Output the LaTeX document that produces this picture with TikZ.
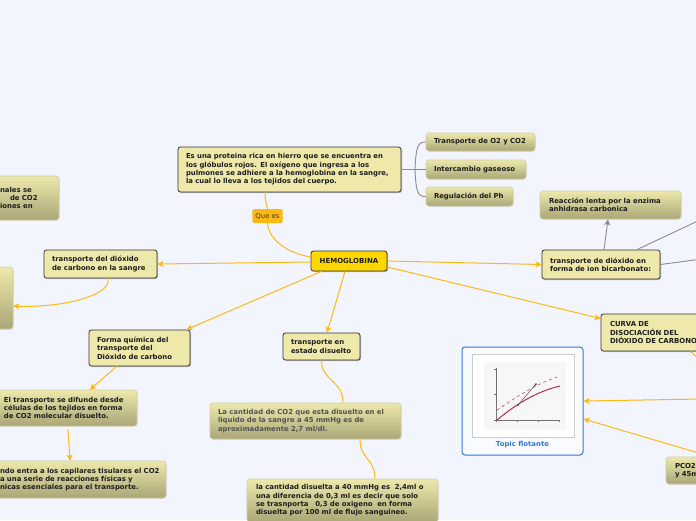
\documentclass[tikz,border=0pt]{standalone}
\usepackage{fontspec}
\setmainfont{DejaVu Sans}
\usetikzlibrary{arrows.meta,shadows}
\definecolor{bg}{HTML}{F2F5FD}
\definecolor{pale}{HTML}{EEE8AA}
\definecolor{gtop}{HTML}{EDE9AC}
\definecolor{gbot}{HTML}{AAA677}
\definecolor{gedge}{HTML}{D2CEA2}
\definecolor{orng}{HTML}{FDB913}
\definecolor{hemoc}{HTML}{FFD700}
\definecolor{bluet}{HTML}{2F7BD6}
\definecolor{txt}{HTML}{1E1E1E}
\definecolor{crv}{HTML}{C0163B}
\tikzset{
  fnt/.style={font=\fontsize{6.9}{8.4}\selectfont\bfseries, text=txt},
  palebox/.style={fnt, draw=black!80, fill=pale, rounded corners=2.5pt, line width=0.8pt,
    drop shadow={shadow xshift=1pt, shadow yshift=-1pt, fill=black, opacity=0.25},
    align=left, inner xsep=8pt, inner ysep=0pt},
  gradbox/.style={fnt, draw=gedge, top color=gtop, bottom color=gbot, rounded corners=3pt, line width=0.6pt,
    drop shadow={shadow xshift=0.6pt, shadow yshift=-0.6pt, fill=black, opacity=0.12},
    align=left, inner xsep=8pt, inner ysep=0pt},
  arr/.style={draw=orng, line width=1pt, -{Stealth[length=6pt,width=6pt,inset=1.5pt]}},
  oline/.style={draw=orng, line width=1pt},
  gline/.style={draw=black!45, line width=0.9pt},
  garr/.style={draw=black!45, line width=0.9pt, -{Stealth[length=6pt,width=6pt,inset=1.5pt]}},
}
\begin{document}
\begin{tikzpicture}[x=1pt,y=-1pt]
\useasboundingbox (0,0) rectangle (696,520);
\fill[bg] (0,0) rectangle (696,520);
\clip (0,0) rectangle (696,520);

% ---------- nodes ----------
\node[palebox, text width=207pt, minimum height=45pt] (def) at (289.5,169.5)
 {Es una proteina rica en hierro que se encuentra en\\los glóbulos rojos. El oxígeno que ingresa a los\\pulmones se adhiere a la hemoglobina en la sangre,\\la cual lo lleva a los tejidos del cuerpo.};

\node[gradbox, text width=93pt, minimum height=18pt] (tr1) at (480.5,142) {Transporte de O2 y CO2};
\node[gradbox, text width=84pt, minimum height=19pt] (tr2) at (476,169.5) {Intercambio gaseoso};
\node[gradbox, text width=71pt, minimum height=19pt] (tr3) at (469.5,196.5) {Regulación del Ph};

\node[gradbox, text width=50pt, inner xsep=9pt, minimum height=44pt] (lt) at (25,198)
 {\mbox{nales se}\\\mbox{\hspace{10pt}de CO2}\\\mbox{iones en}};
\node[gradbox, text width=57pt, minimum height=62pt] (lm) at (-23.5,298) {};

\node[palebox, text width=97pt, minimum height=28pt] (tdc) at (100.5,264)
 {transporte del dióxido\\de carbono en la sangre};
\node[palebox, text width=85pt, minimum height=36pt] (fq) at (139.5,348)
 {Forma química del\\transporte del\\Dióxido de carbono};
\node[gradbox, text width=126pt, inner xsep=7pt, minimum height=36pt] (elt) at (67,408)
 {\mbox{El transporte se difunde desde}\\\mbox{células de los tejidos en forma}\\\mbox{de CO2 molecular disuelto.}};
\node[gradbox, text width=157pt, inner xsep=9pt, minimum height=37pt] (cua) at (78.5,479.5)
 {\mbox{ndo entra a los capilares tisulares el CO2}\\\mbox{a una serie de reacciones físicas y}\\\mbox{nicas esenciales para el transporte.}};

\node[palebox, text width=61pt, minimum height=27pt] (tds) at (321.5,346.5)
 {transporte en\\estado disuelto};
\node[gradbox, text width=175pt, minimum height=36pt, text=black!68] (lc1) at (305.5,421)
 {La cantidad de CO2 que esta disuelto en el\\liquido de la sangre a 45 mmHg es de\\aproximadamente 2,7 ml/dl.};
\node[gradbox, text width=173pt, inner xsep=9pt, minimum height=43pt] (lc2) at (342.5,500.5)
 {la cantidad disuelta a 40 mmHg es~ 2,4ml o\\una diferencia de 0,3 ml es decir que solo\\se trasnporta~~ 0,3 de oxigeno~ en forma\\disuelta por 100 ml de flujo sanguineo.};

\node[palebox, text width=102pt, minimum height=29pt] (bic) at (601,264.5)
 {transporte de dióxido en\\forma de ion bicarbonato:};
\node[gradbox, text width=123pt, inner xsep=9pt, minimum height=28pt] (rl) at (610.5,205)
 {Reacción lenta por la enzima\\anhidrasa carbonica};
\node[palebox, text width=101pt, inner xsep=9pt, minimum height=37pt] (cur) at (660.5,332.5)
 {CURVA DE\\DISOCIACIÓN DEL\\\mbox{DIÓXIDO DE CARBONO}};
\node[gradbox, text width=46pt, inner xsep=9pt, minimum height=27pt] (pco) at (698,470.5)
 {PCO2\\y 45m};

% floating topic
\node[draw=bluet, fill=white!60!bg, line width=1pt, rounded corners=3pt,
  minimum width=121pt, minimum height=108pt, inner sep=0pt] (ft) at (522.5,401) {};
\node[fill=white, draw=black!20, line width=0.6pt,
  drop shadow={shadow xshift=0.8pt, shadow yshift=-0.8pt, fill=black, opacity=0.15},
  minimum width=102pt, minimum height=83pt, inner sep=0pt] (img) at (523,395.5) {};
\node[font=\fontsize{6.9}{8}\selectfont\bfseries, text=bluet] (ftl) at (522.5,445) {Topic flotante};
% small graph inside the image
\fill[black!3] (484,362) rectangle (566,430);
\draw[black!55, line width=0.4pt] (496,368) -- (496,420) -- (560,420);
\foreach \xx in {496,517,538,559} \draw[black!55, line width=0.3pt] (\xx,420) -- (\xx,422);
\foreach \yy in {369,394,420} \draw[black!55, line width=0.3pt] (494,\yy) -- (496,\yy);
\draw[crv!70, line width=0.7pt, dashed] (497,410) .. controls (515,398) and (535,384) .. (560,376);
\draw[crv, line width=0.9pt] (497,420) .. controls (515,405) and (535,392) .. (560,386);
\draw[black!70, line width=0.5pt, -{Stealth[length=2.5pt]}] (518,405) -- (536,384);
\fill[black!70] (518,405) circle (1pt) (536,384) circle (1pt);

\node[fill=orng, rounded corners=1.5pt, inner xsep=3pt, inner ysep=0pt, minimum height=14pt,
  font=\fontsize{6.9}{8}\selectfont, text=black!70!orng] (qe) at (267.5,216) {Que es};

\node[fill=hemoc, draw=black!80, line width=0.8pt, rounded corners=2.5pt,
  drop shadow={shadow xshift=1pt, shadow yshift=-1pt, fill=black, opacity=0.25},
  minimum width=76pt, minimum height=20pt, inner sep=0pt,
  font=\fontsize{7}{8}\selectfont\bfseries, text=txt] (hemo) at (349,261) {HEMOGLOBINA};

% off-canvas coordinates
\coordinate (o1) at (702,219);
\coordinate (o2) at (702,259);
\coordinate (o3) at (702,362);
\coordinate (o4) at (702,399);
\coordinate (o5) at (702,454);

% ---------- connectors ----------
\draw[oline] ([yshift=4pt]hemo.west) .. controls (282,252) and (268,236) .. (qe.south);
\draw[oline] (qe.north) .. controls (266,204) and (265,198) .. ([xshift=-24.5pt]def.south);
\draw[gline] (def.east) -- (415,169.5);
\draw[gline] (415,169.5) .. controls (416,146) and (418,142) .. (tr1.west);
\draw[gline] (415,169.5) -- (tr2.west);
\draw[gline] (415,169.5) .. controls (416,193) and (418,196.5) .. (tr3.west);

\draw[arr] ([yshift=-1pt]hemo.west) -- (tdc.east);
\draw[arr] ([xshift=7.5pt]tdc.south) .. controls (112,296) and (60,308) .. ([yshift=-8pt]lm.east);
\draw[arr] ([xshift=11pt]hemo.south west) -- ([xshift=-4pt]fq.north east);
\draw[arr] ([xshift=-23pt]fq.south) -- ([xshift=23pt]elt.north);
\draw[arr] ([xshift=1pt,yshift=-3pt]elt.south) -- ([xshift=-8.5pt]cua.north);
\draw[arr] ([xshift=-4pt]hemo.south) -- ([xshift=5.5pt]tds.north);
\draw[oline] (tds.south) .. controls (322,382) and (343,380) .. ([xshift=37.5pt]lc1.north);
\draw[oline] ([xshift=54.5pt]lc1.south) .. controls (360,460) and (375,458) .. ([xshift=32.5pt]lc2.north);
\draw[arr] (hemo.east) -- (bic.west);
\draw[arr] ([yshift=-6pt]hemo.east) -- ([yshift=14pt]cur.west);
\draw[garr] ([xshift=3pt]bic.north) -- ([xshift=-2.5pt]rl.south);
\draw[gline] ([xshift=36pt]bic.north) -- (o1);
\draw[gline] (bic.east) -- (o2);
\draw[oline] ([xshift=30pt]cur.south) -- (o3);
\draw[arr] (o4) -- (ft.east);
\draw[arr] (o5) -- ([yshift=-18pt]ft.east);
\end{tikzpicture}
\end{document}
